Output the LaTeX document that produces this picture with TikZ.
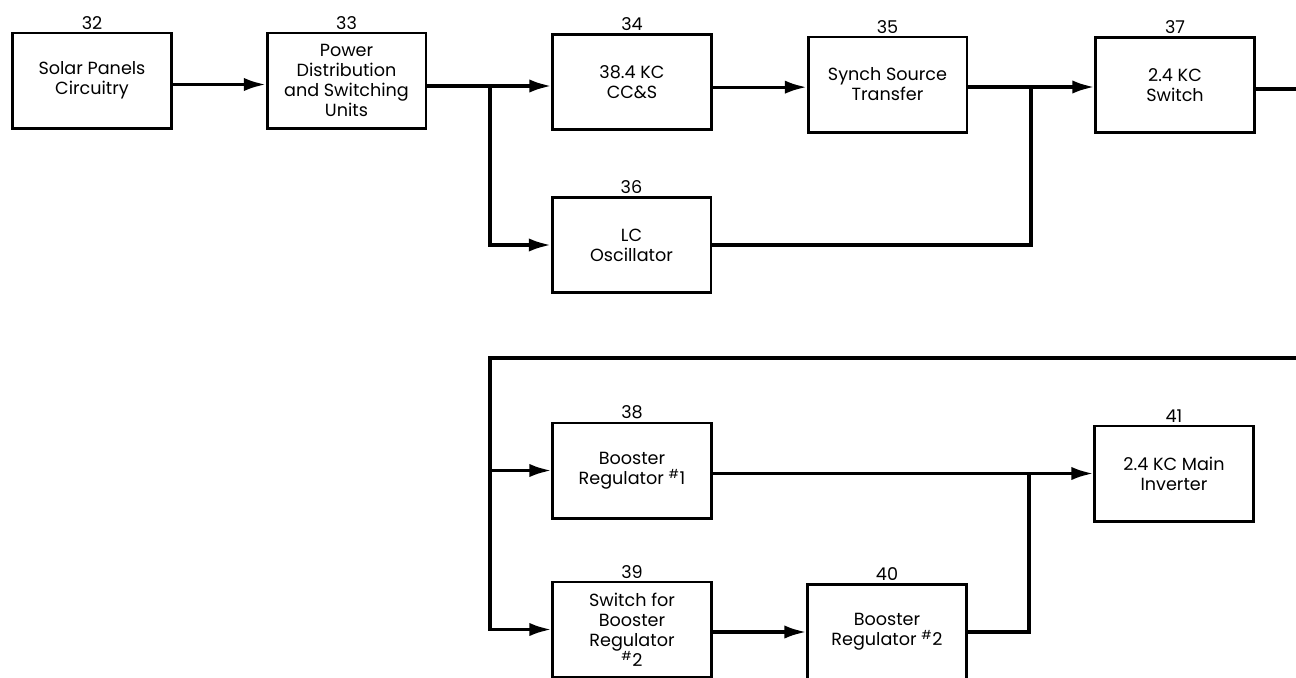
\documentclass[tikz,border=0pt]{standalone}
\usepackage{fontspec}
\setmainfont{Poppins}
\usetikzlibrary{arrows.meta}
\begin{document}
\begin{tikzpicture}[x=0.75pt,y=-0.75pt,
  blk/.style={draw, line width=2pt, minimum width=119pt, minimum height=71.5pt,
    align=center, inner sep=0pt, font=\fontsize{13.2}{15}\selectfont},
  num/.style={font=\fontsize{13.2}{15}\selectfont, inner sep=1.5pt},
  conn/.style={line width=2.5pt},
  arr/.style={conn, -{Latex[length=16.5pt,width=10pt]}}]
\useasboundingbox (0,0) rectangle (1296,678);
\clip (0,0) rectangle (1296,678);
% boxes
\node[blk, label={[num]above:32}] (n32) at (92,80.5) {Solar Panels\\Circuitry};
\node[blk, label={[num]above:33}] (n33) at (346.5,80.5) {Power\\Distribution\\and Switching\\Units};
\node[blk, label={[num]above:34}] (n34) at (632,82) {38.4 KC\\CC\&S};
\node[blk, label={[num]above:35}] (n35) at (887.5,84.5) {Synch Source\\Transfer};
\node[blk, label={[num]above:37}] (n37) at (1175,85) {2.4 KC\\Switch};
\node[blk, label={[num]above:36}] (n36) at (631.5,245) {LC\\Oscillator};
\node[blk, label={[num]above:38}] (n38) at (632,470.5) {Booster\\Regulator \textsuperscript{\#}1};
\node[blk, label={[num]above:41}] (n41) at (1174,473.5) {2.4 KC Main\\Inverter};
\node[blk, label={[num]above:39}] (n39) at (632,629.5) {Switch for\\Booster\\Regulator\\\textsuperscript{\#}2};
\node[blk, label={[num]above:40}] (n40) at (887,632) {Booster\\Regulator \textsuperscript{\#}2};
% junctions and free ends
\coordinate (a33) at ([yshift=-3pt]n33.west);
\coordinate (a34) at ([yshift=-3pt]n34.west);
\coordinate (a35) at ([yshift=-2pt]n35.west);
\coordinate (a37) at ([yshift=-1.5pt]n37.west);
\coordinate (j1) at (490,86);
\coordinate (j2) at (1031,87);
\coordinate (e1) at (1296,89);
\coordinate (e2) at (1296,358);
\coordinate (j3) at (490,358);
\coordinate (j4) at (1029,473.5);
% connectors
\draw[arr] (n32.east |- a33) -- (a33);
\draw[arr] (n33.east |- a34) -- (a34);
\draw[arr] (j1) |- (n36.west);
\draw[arr] (n34.east |- a35) -- (a35);
\draw[arr] (n35.east |- a37) -- (a37);
\draw[conn] (n36.east) -| (j2);
\draw[conn] (n37.east |- e1) -- (e1);
\draw[arr] (e2) -- (j3) |- (n39.west);
\draw[arr] (j3 |- n38.west) -- (n38.west);
\draw[arr] (n38.east |- n41.west) -- (n41.west);
\draw[arr] (n39.east |- n40.west) -- (n40.west);
\draw[conn] (n40.east) -| (j4);
\end{tikzpicture}
\end{document}
